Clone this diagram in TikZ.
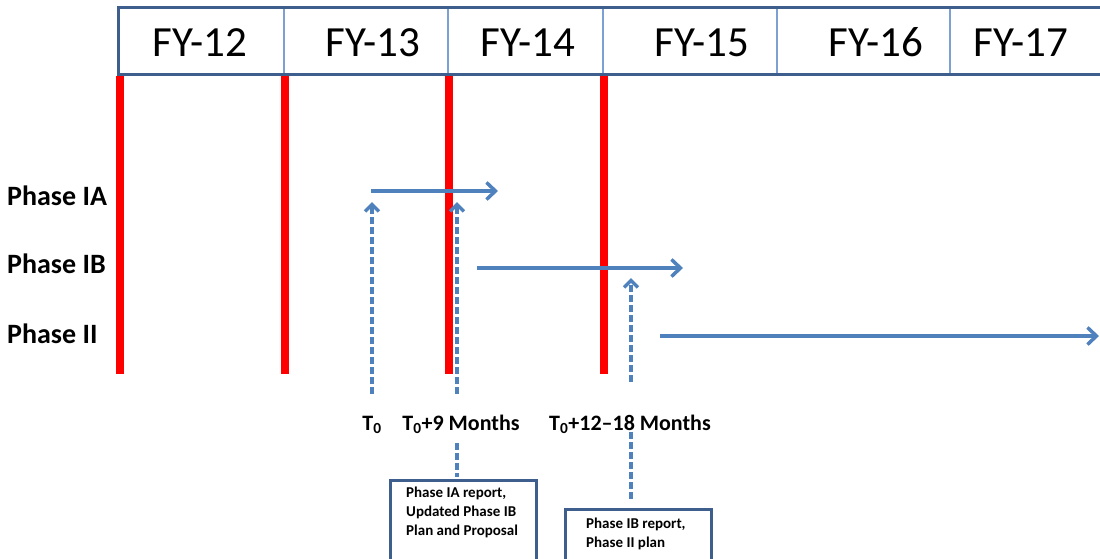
\documentclass[tikz,border=0pt]{standalone}
\usepackage{fontspec}
\setmainfont{Carlito}
\usetikzlibrary{positioning,arrows.meta}

\definecolor{frameblue}{RGB}{62,94,142}
\definecolor{cellblue}{RGB}{125,160,210}
\definecolor{arrowblue}{RGB}{79,129,189}

\tikzset{
    yearlabel/.style={font=\fontsize{43}{43}\selectfont,text height=29pt,text depth=0pt},
    phaselabel/.style={font=\bfseries\fontsize{28}{28}\selectfont,anchor=base west,inner sep=0pt},
    milestone/.style={font=\bfseries\fontsize{22}{22}\selectfont,anchor=base,inner sep=0pt},
    redbar/.style={draw=red,line width=8pt},
    phasearrow/.style={draw=arrowblue,line width=3.5pt,-{Straight Barb[length=9pt,width=17pt]}},
    markarrow/.style={draw=arrowblue,line width=3.5pt,dash pattern=on 7pt off 3pt,-{Straight Barb[length=7pt,width=14pt]}},
    marklink/.style={draw=arrowblue,line width=3.5pt,dash pattern=on 7pt off 3pt},
    reportbox/.style={draw=frameblue,line width=2.5pt,fill=white,anchor=north west,minimum width=146pt,minimum height=90pt},
    reporttext/.style={font=\bfseries\fontsize{15}{19}\selectfont,anchor=north west,align=left,inner sep=0pt}
}

\begin{document}
\begin{tikzpicture}[x=1pt,y=-1pt]
            \useasboundingbox (0,0) rectangle (1100,558);

            \draw [redbar] (120,76) -- (120,374);
            \draw [redbar] (285,76) -- (285,374);
            \draw [redbar] (449,76) -- (449,374);
            \draw [redbar] (604,76) -- (604,374);

            \draw [draw=cellblue,line width=1.5pt] (284,7) -- (284,74) (448,7) -- (448,74) (603,7) -- (603,74)
                                (777,7) -- (777,74) (950,7) -- (950,74);
            \draw [draw=frameblue,line width=3pt] (1103,7) -- (118,7) -- (118,74) -- (1103,74);

            \node[yearlabel] (fy12) at (200,42) {FY-12};
            \node[yearlabel] (fy13) [right of=fy12,node distance=173pt] {FY-13};
            \node[yearlabel] (fy14) [right of=fy13,node distance=155pt] {FY-14};
            \node[yearlabel] (fy15) [right of=fy14,node distance=174pt] {FY-15};
            \node[yearlabel] (fy16) [right of=fy15,node distance=174pt] {FY-16};
            \node[yearlabel] (fy17) [right of=fy16,node distance=145pt] {FY-17};

            \node[phaselabel] (ia) at (7,205) {Phase IA};
            \node[phaselabel] (ib) at (7,273) {Phase IB};
            \node[phaselabel] (ii) at (7,343) {Phase II};

            \coordinate (iaS) at (371,191);  \coordinate (iaE) at (498,191);
            \coordinate (ibS) at (477,268);  \coordinate (ibE) at (683,268);
            \coordinate (iiS) at (660,336);  \coordinate (iiE) at (1099,336);

            \draw               (iaS) edge [phasearrow] (iaE)
                                (ibS) edge [phasearrow] (ibE)
                                (iiS) edge [phasearrow] (iiE);

            \node[milestone] (t0) at (372,430) {T\textsubscript{0}};
            \node[milestone] (t9) at (461,430) {T\textsubscript{0}+9 Months};
            \node[milestone] (t18) at (630,430) {T\textsubscript{0}+12–18 Months};

            \coordinate (t0low) at (372,394);   \coordinate (t0up) at (372,202);
            \coordinate (t9low) at (457,394);   \coordinate (t9up) at (457,202);
            \coordinate (t18low) at (631,382); \coordinate (t18up) at (631,278);
            \coordinate (t9link) at (457,443);  \coordinate (t18link) at (631,432);

            \draw               (t0low) edge [markarrow] (t0up)
                                (t9low) edge [markarrow] (t9up)
                                (t18low) edge [markarrow] (t18up);

            \node[reportbox] (rep9) at (389,479) {};
            \node[reportbox] (rep18) at (564,508) {};
            \node[reporttext] (rep9text) at (406,487) {Phase IA report,\\Updated Phase IB\\Plan and Proposal};
            \node[reporttext] (rep18text) at (586,518) {Phase IB report,\\Phase II plan};

            \draw [marklink,shorten >=2pt] (t9link) -- (t9link |- rep9.north);
            \draw [marklink,shorten >=9pt] (t18link) -- (t18link |- rep18.north);
        \end{tikzpicture}
\end{document}
